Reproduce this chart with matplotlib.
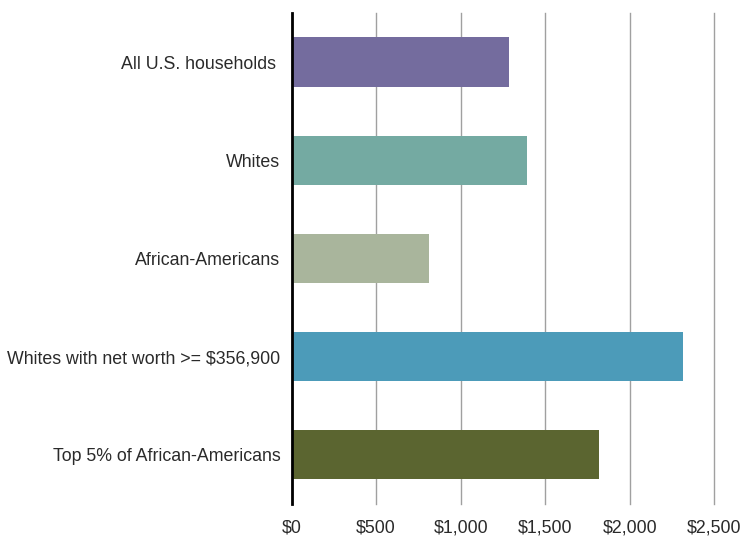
import matplotlib
matplotlib.use("Agg")
import matplotlib.pyplot as plt
from matplotlib.ticker import FuncFormatter

categories = ["All U.S. households ", "Whites", "African-Americans",
              "Whites with net worth >= $356,900", "Top 5% of African-Americans"]
values = [1286, 1392, 812, 2315, 1818]
colors = ["#746c9e", "#74aaa2", "#a9b59c", "#4c9bb9", "#5b6530"]
xticks = [0, 500, 1000, 1500, 2000, 2500]

plt.rcParams['font.family'] = ['Liberation Sans', 'DejaVu Sans']

fig = plt.figure(figsize=(7.4, 5.39), dpi=100)
ax = fig.add_axes([0.394, 0.065, 0.9653 - 0.394, 0.976 - 0.065])

ypos = list(range(len(categories)))
ax.barh(ypos, values, height=0.5, color=colors, zorder=3)
ax.set_ylim(len(categories) - 0.5, -0.5)
ax.set_xlim(0, 2500)
ax.set_yticks(ypos)
ax.set_yticklabels(categories, fontsize=12.8, color="#2a2a2a")
ax.set_xticks(xticks)
ax.xaxis.set_major_formatter(FuncFormatter(lambda v, p: "${:,.0f}".format(v)))
ax.tick_params(axis='x', labelsize=12.8, colors="#2a2a2a", length=0, pad=11)
ax.tick_params(axis='y', length=0, pad=8)
ax.grid(axis='x', color="#a0a0a0", linewidth=1, zorder=0)
for gl in ax.get_xgridlines():
    gl.set_clip_on(False)
for s in ["top", "right", "bottom"]:
    ax.spines[s].set_visible(False)
ax.spines["left"].set_linewidth(2)
ax.spines["left"].set_color("black")
ax.spines["left"].set_zorder(4)

fig.savefig("out.png", dpi=100)
